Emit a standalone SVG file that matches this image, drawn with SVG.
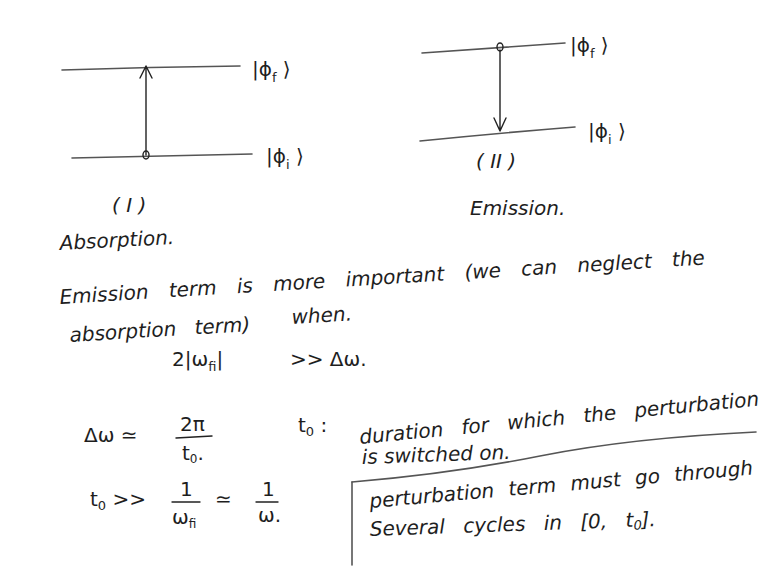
<svg xmlns="http://www.w3.org/2000/svg" width="770" height="570" viewBox="0 0 770 570">
<defs>
<style>
.ln{stroke:#555;stroke-width:1.6;fill:none;stroke-linecap:round}
.pen{stroke:#222;stroke-width:1.4;fill:none;stroke-linecap:round;stroke-linejoin:round}
.t{font-family:"DejaVu Sans","Liberation Sans",sans-serif;font-style:italic;fill:#1e1e1e;font-size:20px}
.k{font-family:"DejaVu Sans","Liberation Sans",sans-serif;fill:#1e1e1e;font-size:20px}
</style>
</defs>
<rect width="770" height="570" fill="#fff"/>

<g id="diagram-absorption">
<path class="ln" d="M62 70 Q150 67 240 66"/>
<path class="ln" d="M72 158 Q160 156 252 154"/>
<path class="pen" d="M146 155 L146 67 M140 78 L146 66 L152 78"/>
<ellipse class="pen" cx="146" cy="155" rx="3" ry="4"/>
<text class="k" x="252" y="76">|ϕ<tspan font-size="13" dy="6">f</tspan><tspan dy="-6"> ⟩</tspan></text>
<text class="k" x="266" y="163">|ϕ<tspan font-size="13" dy="6">i</tspan><tspan dy="-6"> ⟩</tspan></text>
<text class="t" x="112" y="212" font-size="22">( I )</text>
<text class="t" x="60" y="250" transform="rotate(-3 60 250)">Absorption.</text>
</g>

<g id="diagram-emission">
<path class="ln" d="M422 53 Q490 48 565 43"/>
<path class="ln" d="M420 141 Q500 133 575 127"/>
<path class="pen" d="M500 50 L500 130 M494 118 L500 131 L506 118"/>
<ellipse class="pen" cx="500" cy="47" rx="3" ry="4"/>
<text class="k" x="570" y="52">|ϕ<tspan font-size="13" dy="6">f</tspan><tspan dy="-6"> ⟩</tspan></text>
<text class="k" x="588" y="138">|ϕ<tspan font-size="13" dy="6">i</tspan><tspan dy="-6"> ⟩</tspan></text>
<text class="t" x="476" y="168" font-size="22">( II )</text>
<text class="t" x="470" y="215">Emission.</text>
</g>

<g id="notes">
<text class="t" x="60" y="304" transform="rotate(-3.5 60 304)" word-spacing="14">Emission term is more important (we can neglect the</text>
<text class="t" x="70" y="342" transform="rotate(-3.5 70 342)" word-spacing="12">absorption term)</text>
<text class="t" x="292" y="324" transform="rotate(-3.5 292 324)">when.</text>
<text class="k" x="172" y="366">2|ω<tspan font-size="13" dy="5">fi</tspan><tspan dy="-5">|</tspan></text>
<text class="k" x="290" y="366">&gt;&gt; Δω.</text>

<text class="k" x="84" y="442">Δω ≃</text>
<text class="k" x="180" y="431" font-size="17">2π</text>
<path class="pen" d="M176 438 L212 436"/>
<text class="k" x="182" y="460" font-size="17">t<tspan font-size="12" dy="3">0</tspan><tspan dy="-3">.</tspan></text>
<text class="k" x="298" y="432">t<tspan font-size="13" dy="4">0</tspan><tspan dy="-4"> :</tspan></text>
<text class="t" x="360" y="444" transform="rotate(-5.5 360 444)" word-spacing="12">duration for which the perturbation</text>
<text class="t" x="362" y="464" transform="rotate(-2 362 464)">is switched on.</text>

<text class="k" x="90" y="506">t<tspan font-size="13" dy="4">0</tspan><tspan dy="-4"> &gt;&gt;</tspan></text>
<text class="k" x="180" y="496" font-size="17">1</text>
<path class="pen" d="M172 502 L200 502"/>
<text class="k" x="172" y="524" font-size="17">ω<tspan font-size="12" dy="4">fi</tspan></text>
<text class="k" x="215" y="506">≃</text>
<text class="k" x="262" y="496" font-size="17">1</text>
<path class="pen" d="M256 502 L278 502"/>
<text class="k" x="258" y="522" font-size="17">ω.</text>

<path class="ln" d="M352 482 Q450 474 540 456 T756 432"/>
<path class="ln" d="M352 482 L352 565"/>
<text class="t" x="370" y="508" transform="rotate(-5 370 508)" word-spacing="8">perturbation term must go through</text>
<text class="t" x="370" y="536" transform="rotate(-2 370 536)" word-spacing="12">Several cycles in [0, t<tspan font-size="13" dy="3">0</tspan><tspan dy="-3">].</tspan></text>
</g>
</svg>
